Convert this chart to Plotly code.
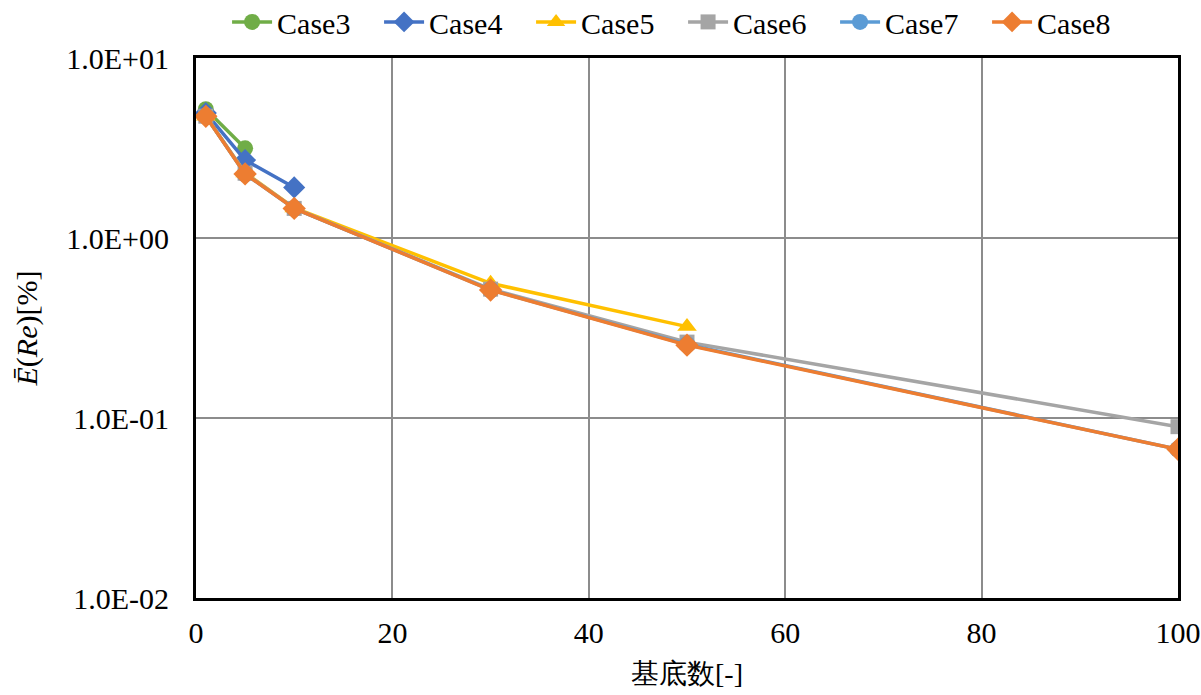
import plotly.graph_objects as go

# Number of bases per case
x_case3 = [1, 5]
x_case4 = [1, 5, 10]
x_case5 = [1, 5, 10, 30, 50]
x_case6 = [1, 5, 10, 30, 50, 100]
x_case7 = [1, 5, 10, 30, 50, 100]
x_case8 = [1, 5, 10, 30, 50, 100]

# Mean relative error E(Re) [%]
y_case3 = [5.19, 3.15]
y_case4 = [4.95, 2.71, 1.91]
y_case5 = [4.75, 2.30, 1.47, 0.56, 0.322]
y_case6 = [4.75, 2.29, 1.46, 0.52, 0.264, 0.0895]
y_case7 = [4.76, 2.27, 1.46, 0.515, 0.256, 0.067]
y_case8 = [4.74, 2.27, 1.46, 0.514, 0.254, 0.067]

names = ["Case3", "Case4", "Case5", "Case6", "Case7", "Case8"]
xs = [x_case3, x_case4, x_case5, x_case6, x_case7, x_case8]
ys = [y_case3, y_case4, y_case5, y_case6, y_case7, y_case8]
colors = ["#70AD47", "#4472C4", "#FFC000", "#A5A5A5", "#5B9BD5", "#ED7D31"]
symbols = ["circle", "diamond", "triangle-up", "square", "circle", "diamond"]
sizes = [16, 17, 17, 15, 17, 18]

y_ticks = [0.01, 0.1, 1, 10]
y_ticktext = ["1.0E-02", "1.0E-01", "1.0E+00", "1.0E+01"]

SERIF = "Liberation Serif"
CLEAR = "rgba(0,0,0,0)"

fig = go.Figure()
for name, x, y, c, s, sz in zip(names, xs, ys, colors, symbols, sizes):
    fig.add_trace(go.Scatter(
        x=x, y=y, name=name, mode="lines+markers",
        line=dict(color=c, width=3.5),
        marker=dict(symbol=s, size=sz, color=c, line=dict(width=0)),
    ))

fig.update_layout(
    width=1201, height=695,
    margin=dict(l=196, r=23, t=58, b=97, autoexpand=False),
    font=dict(family=SERIF, size=30, color="black"),
    plot_bgcolor="white",
    showlegend=True,
    legend=dict(
        orientation="h", x=0.496, xanchor="center", y=1.115, yanchor="top",
        itemwidth=40, entrywidth=97,
    ),
    xaxis=dict(
        range=[0, 100], dtick=20, tick0=0, automargin=False,
        showgrid=True, gridcolor="#8C8C8C", gridwidth=1.5,
        showline=True, linecolor="black", linewidth=3, mirror=True,
        zeroline=False, ticks="outside", ticklen=6, tickcolor=CLEAR,
        title=dict(text="基底数[-]", font=dict(size=28), standoff=16),
    ),
    yaxis=dict(
        type="log", range=[-2, 1], automargin=False,
        tickvals=y_ticks, ticktext=y_ticktext,
        showgrid=True, gridcolor="#8C8C8C", gridwidth=1.5,
        showline=True, linecolor="black", linewidth=3, mirror=True,
        zeroline=False, ticks="outside", ticklen=18, tickcolor=CLEAR,
        title=dict(text="<i>\u0112</i>(<i>Re</i>)[%]", font=dict(size=30), standoff=20),
    ),
)

fig.write_html("out.html")
